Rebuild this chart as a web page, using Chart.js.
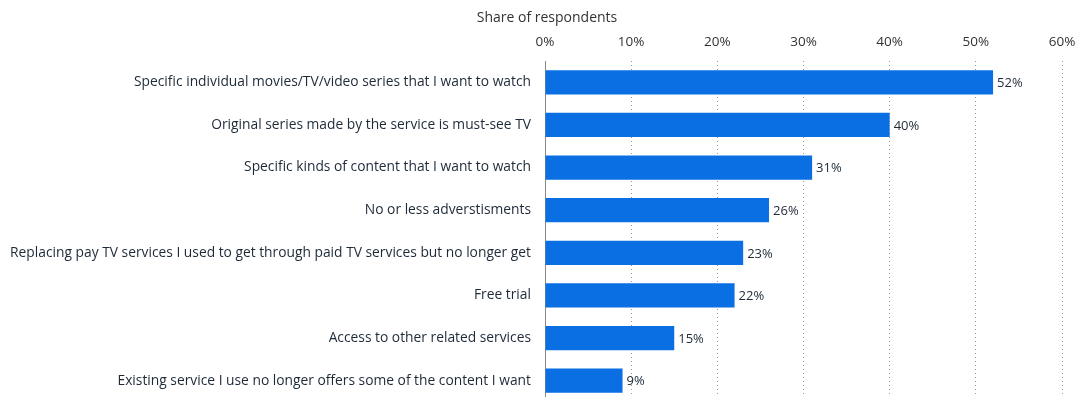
<!DOCTYPE html>
<html>
<head>
<meta charset="utf-8">
<script src="https://cdn.jsdelivr.net/npm/chart.js@4.4.1/dist/chart.umd.min.js"></script>
<style>
    html, body { margin: 0; padding: 0; background: #fff; overflow: hidden; }
    canvas { display: block; }
</style>
</head>
<body>
<canvas id="chart" width="1078" height="397"></canvas>
<script>
const categories = [
    'Specific individual movies/TV/video series that I want to watch',
    'Original series made by the service is must-see TV',
    'Specific kinds of content that I want to watch',
    'No or less adverstisments',
    'Replacing pay TV services I used to get through paid TV services but no longer get',
    'Free trial',
    'Access to other related services',
    'Existing service I use no longer offers some of the content I want'
];
const shares = [52, 40, 31, 26, 23, 22, 15, 9];
const xTicks = [0, 10, 20, 30, 40, 50, 60];
const axisTitle = 'Share of respondents';

const textColor = '#1e2a38';
const barColor = '#0a6fe2';
const plotBottom = 402;   // plot runs a little past the canvas edge

// scales reserve room for their end labels; drop it so the plot fills the canvas
function noEdgePadding(scale) {
    scale.paddingTop = 0;
    scale.paddingBottom = 0;
    scale.paddingLeft = 0;
    scale.paddingRight = 0;
}

// stretch the category axis down past the bottom edge
const extendPlot = {
    id: 'extendPlot',
    afterLayout(chart) {
        const y = chart.scales.y;
        chart.chartArea.bottom = plotBottom;
        chart.chartArea.height = plotBottom - chart.chartArea.top;
        y.bottom = plotBottom;
        y.height = plotBottom - y.top;
        y.configure();
    }
};

// value labels at the end of each bar, plus the title above the axis
const barLabels = {
    id: 'barLabels',
    afterDatasetsDraw(chart) {
        const ctx = chart.ctx;
        const meta = chart.getDatasetMeta(0);
        ctx.save();
        ctx.font = '13px "Open Sans"';
        ctx.fillStyle = textColor;
        ctx.textAlign = 'left';
        ctx.textBaseline = 'middle';
        meta.data.forEach((bar, i) => {
            ctx.fillText(shares[i] + '%', bar.x + 4, bar.y + 1);
        });
        ctx.font = '14px "Open Sans"';
        ctx.textAlign = 'center';
        ctx.fillStyle = '#333';
        ctx.fillText(axisTitle, chart.chartArea.left + 2, 18);
        ctx.restore();
    }
};

new Chart(document.getElementById('chart'), {
    type: 'bar',
    data: {
        labels: categories,
        datasets: [{
            data: shares,
            backgroundColor: barColor,
            borderWidth: 0,
            barPercentage: 0.57,
            categoryPercentage: 1
        }]
    },
    options: {
        indexAxis: 'y',
        responsive: false,
        animation: false,
        layout: { padding: { left: 0, right: 16, top: 0, bottom: 0 } },
        plugins: {
            legend: { display: false },
            tooltip: { enabled: false }
        },
        scales: {
            x: {
                position: 'top',
                min: 0,
                max: 60,
                afterBuildTicks: (scale) => {
                    scale.ticks = xTicks.map(v => ({ value: v }));
                },
                afterFit: (scale) => { scale.height = 61; noEdgePadding(scale); },
                grid: {
                    drawTicks: false,
                    color: (c) => c.tick && c.tick.value === 0 ? 'rgba(0,0,0,0)' : '#9a9a9a',
                    lineWidth: 1
                },
                border: { display: false, dash: [1, 3] },
                ticks: {
                    padding: 11,
                    color: '#333',
                    font: { family: 'Open Sans', size: 13.5 },
                    callback: (v) => v + '%'
                }
            },
            y: {
                afterFit: (scale) => { scale.width = 545; noEdgePadding(scale); },
                grid: { display: false, drawTicks: false },
                border: { display: true, color: '#8a8a8a', width: 1 },
                ticks: {
                    padding: 14,
                    color: textColor,
                    font: { family: 'Open Sans', size: 13.8 }
                }
            }
        }
    },
    plugins: [extendPlot, barLabels]
});
</script>
</body>
</html>
